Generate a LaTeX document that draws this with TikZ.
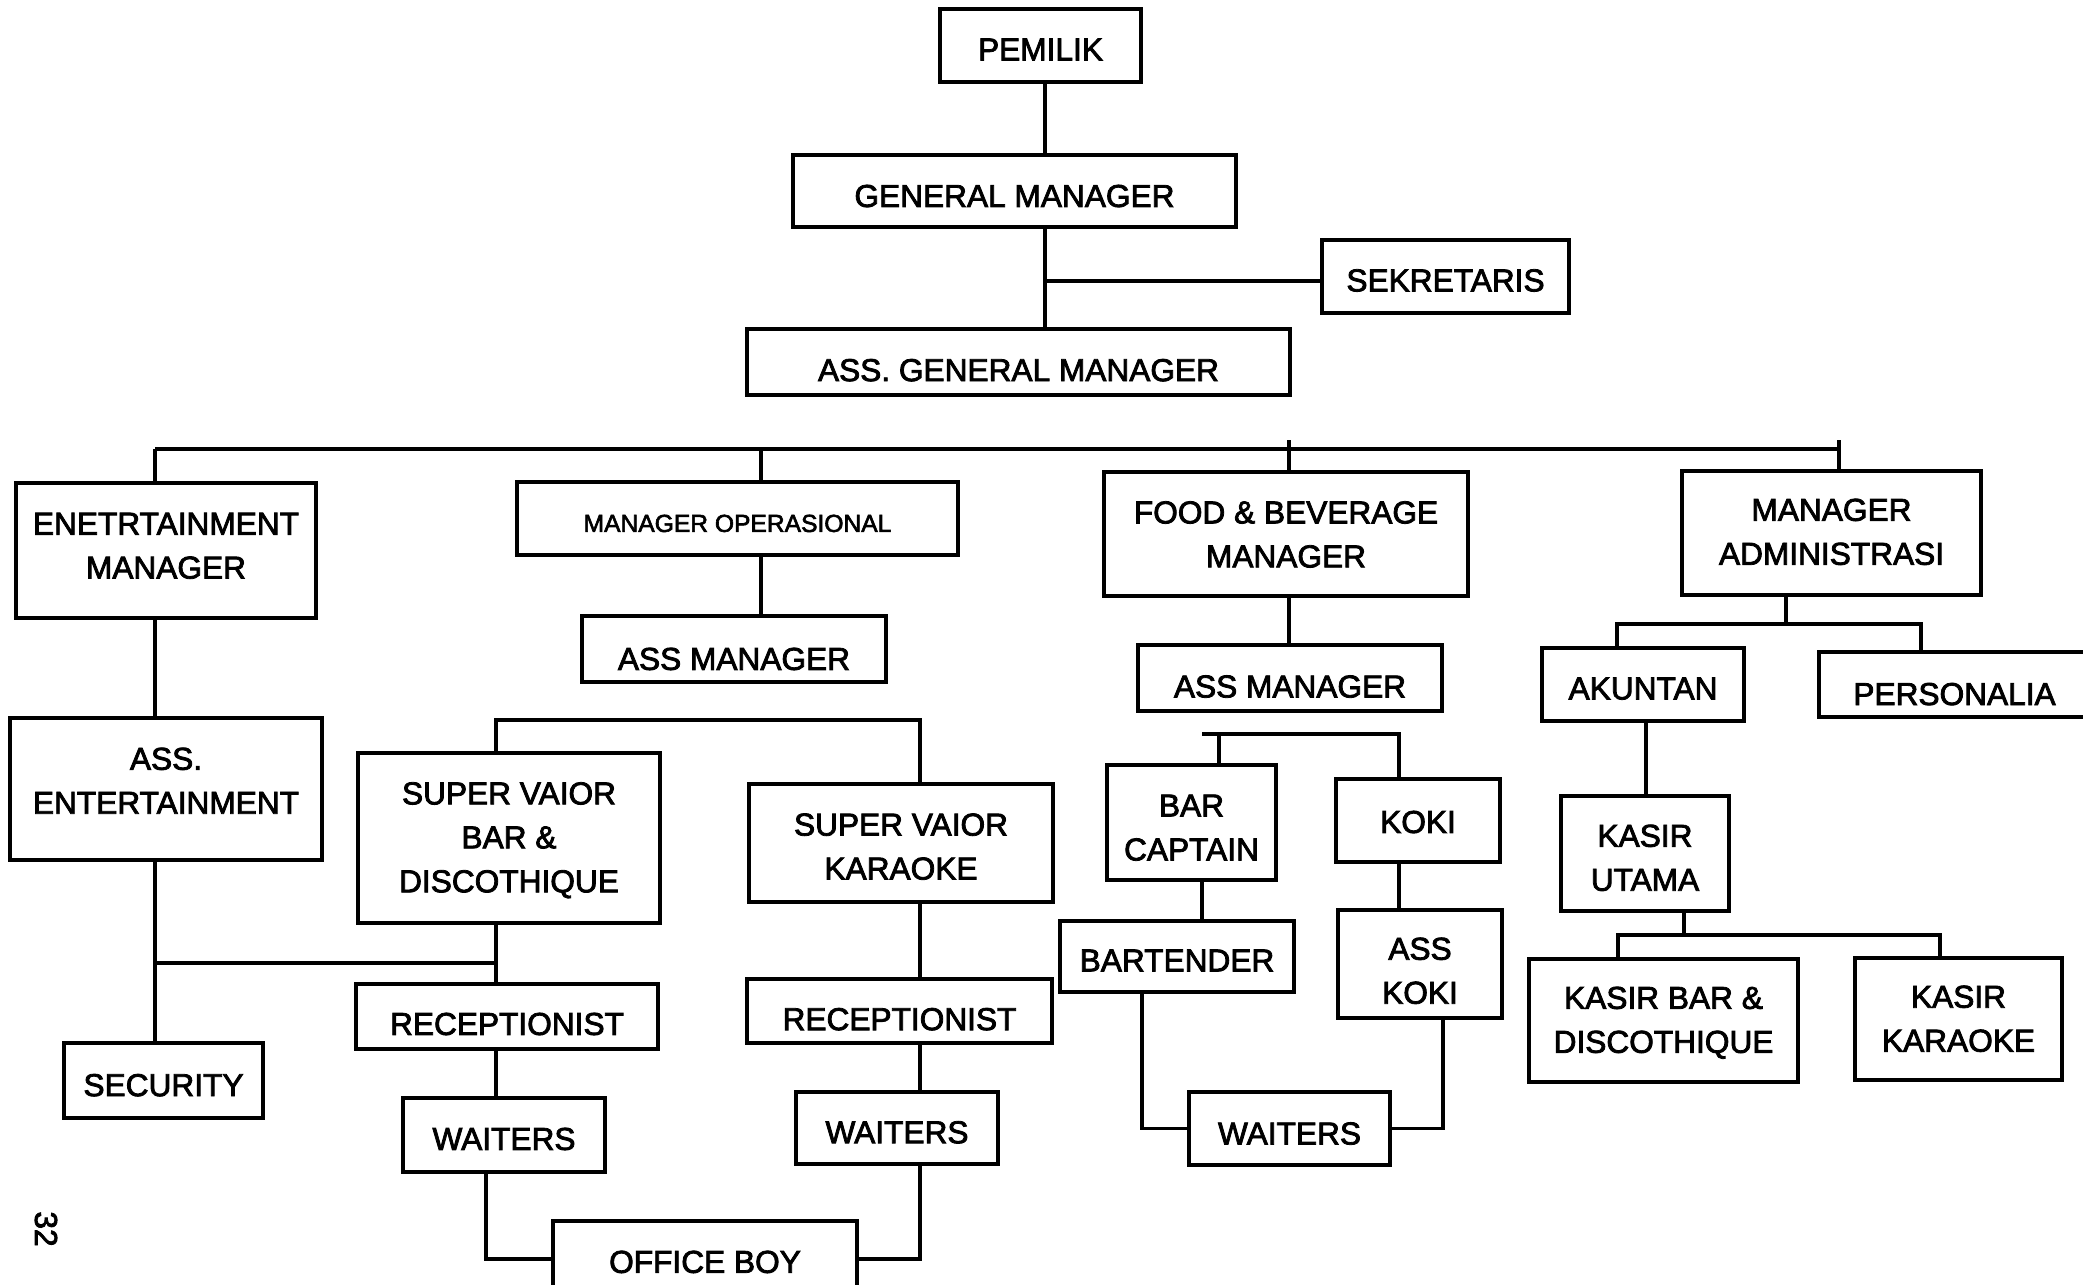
\documentclass[tikz,border=0pt]{standalone}
\usepackage{fontspec}
\setmainfont{Liberation Sans}[FakeBold=2.5]
% single-line text, lowered by #1 (box keeps cap height)
\newcommand\tone[2]{\raisebox{-#1}[6.45pt][0pt]{#2}}
\newcommand\tsmall[2]{\raisebox{-#1}[5.02pt][0pt]{#2}}
% multi-line text: #1 shift down, #2 depth of block, #3 lines
\newcommand\tmulti[3]{\raisebox{-#1}[6.45pt][#2]{\begin{tabular}[t]{@{}c@{}}#3\end{tabular}}}
\begin{document}
\begin{tikzpicture}[x=0.01cm,y=0.01cm,
  box/.style={draw, line width=1.05pt, inner sep=0pt, fill=white,
              font=\fontsize{9}{12.5}\selectfont},
  conn/.style={line width=1pt}]
\useasboundingbox (0,0) rectangle (2083,-1284);
\clip (0,0) rectangle (2083,-1284);
\fill[white] (0,0) rectangle (2083,-1284);

% top
\node[box,minimum width=2.01cm,minimum height=0.73cm] (pemilik) at (1040.5,-45.5) {\tone{1pt}{PEMILIK}};
\node[box,minimum width=4.43cm,minimum height=0.72cm] (gm) at (1014.5,-191) {\tone{1.3pt}{GENERAL MANAGER}};
\node[box,minimum width=2.47cm,minimum height=0.73cm] (sek) at (1445.5,-276.5) {\tone{1pt}{SEKRETARIS}};
\node[box,minimum width=5.43cm,minimum height=0.66cm] (agm) at (1018.5,-362) {\tone{2.2pt}{ASS. GENERAL MANAGER}};

% managers
\node[box,minimum width=3.00cm,minimum height=1.35cm] (ent) at (166,-550.5) {\tmulti{-1.5pt}{12.5pt}{ENETRTAINMENT\\MANAGER}};
\node[box,minimum width=4.41cm,minimum height=0.73cm,font=\fontsize{7}{9}\selectfont] (mop) at (737.5,-518.5) {\tsmall{1.3pt}{MANAGER OPERASIONAL}};
\node[box,minimum width=3.04cm,minimum height=0.66cm] (assop) at (734,-649) {\tone{2.7pt}{ASS MANAGER}};
\node[box,minimum width=3.64cm,minimum height=1.24cm] (fb) at (1286,-534) {\tmulti{0pt}{12.5pt}{FOOD \& BEVERAGE\\MANAGER}};
\node[box,minimum width=2.99cm,minimum height=1.24cm] (madm) at (1831.5,-533) {\tmulti{-0.45pt}{12.5pt}{MANAGER\\ADMINISTRASI}};
\node[box,minimum width=3.04cm,minimum height=0.66cm] (assfb) at (1290,-678) {\tone{2.3pt}{ASS MANAGER}};
\node[box,minimum width=2.02cm,minimum height=0.73cm] (akun) at (1643,-684.5) {\tone{1pt}{AKUNTAN}};
\node[box,minimum width=2.71cm,minimum height=0.65cm] (pers) at (1954.5,-684.5) {\tone{2.6pt}{PERSONALIA}};

% F&B branch
\node[box,minimum width=1.69cm,minimum height=1.15cm] (barcap) at (1191.5,-822.5) {\tmulti{1.3pt}{12.5pt}{BAR\\CAPTAIN}};
\node[box,minimum width=1.64cm,minimum height=0.83cm] (koki) at (1418,-820.5) {\tone{0.3pt}{KOKI}};
\node[box,minimum width=2.34cm,minimum height=0.71cm] (bartender) at (1177,-956.5) {\tone{1pt}{BARTENDER}};
\node[box,minimum width=1.64cm,minimum height=1.08cm] (asskoki) at (1420,-964) {\tmulti{1.8pt}{12.5pt}{ASS\\KOKI}};
\node[box,minimum width=2.01cm,minimum height=0.73cm] (waitfb) at (1289.5,-1128.5) {\tone{1.3pt}{WAITERS}};

% admin branch
\node[box,minimum width=1.68cm,minimum height=1.15cm] (kasirut) at (1645,-853.5) {\tmulti{1.1pt}{12.5pt}{KASIR\\UTAMA}};
\node[box,minimum width=2.69cm,minimum height=1.23cm] (kbar) at (1663.5,-1020.5) {\tmulti{-0.3pt}{12.5pt}{KASIR BAR \&\\DISCOTHIQUE}};
\node[box,minimum width=2.07cm,minimum height=1.22cm] (kkar) at (1958.5,-1019) {\tmulti{-0.2pt}{12.5pt}{KASIR\\KARAOKE}};

% entertainment / operational branch
\node[box,minimum width=3.12cm,minimum height=1.42cm] (assent) at (166,-789) {\tmulti{-2.45pt}{12.5pt}{ASS.\\ENTERTAINMENT}};
\node[box,minimum width=1.99cm,minimum height=0.75cm] (security) at (163.5,-1080.5) {\tone{1.2pt}{SECURITY}};
\node[box,minimum width=3.02cm,minimum height=1.70cm] (svbar) at (509,-838) {\tmulti{-0.3pt}{25pt}{SUPER VAIOR\\BAR \&\\DISCOTHIQUE}};
\node[box,minimum width=3.04cm,minimum height=1.18cm] (svkar) at (901,-843) {\tmulti{0.9pt}{12.5pt}{SUPER VAIOR\\KARAOKE}};
\node[box,minimum width=3.02cm,minimum height=0.65cm] (recl) at (507,-1016.5) {\tone{2pt}{RECEPTIONIST}};
\node[box,minimum width=3.05cm,minimum height=0.64cm] (recr) at (899.5,-1011) {\tone{2.2pt}{RECEPTIONIST}};
\node[box,minimum width=2.02cm,minimum height=0.74cm] (waitl) at (504,-1135) {\tone{1pt}{WAITERS}};
\node[box,minimum width=2.02cm,minimum height=0.72cm] (waitr) at (897,-1128) {\tone{1.1pt}{WAITERS}};
\node[box,minimum width=3.04cm,minimum height=0.76cm] (office) at (705,-1259) {\tone{0.7pt}{OFFICE BOY}};

% page number
\node[rotate=-90,font=\fontsize{9}{11}\selectfont,inner sep=0pt] (pagenum) at (46,-1229) {32};

% connectors: top
\coordinate (sp) at (1045,-281);
\draw[conn] (pemilik.south -| sp) -- (gm.north -| sp);
\draw[conn] (gm.south -| sp) -- (agm.north -| sp);
\draw[conn] (sp) -- (sp -| sek.west);

% main bus
\coordinate (bL) at (155,-449);
\coordinate (bR) at (1839,-449);
\coordinate (bO) at (761,-449);
\coordinate (bF) at (1289,-440);
\coordinate (bA) at (1839,-440);
\draw[conn] (bL) -- (bR);
\draw[conn] (bL) -- (bL |- ent.north);
\draw[conn] (bO) -- (bO |- mop.north);
\draw[conn] (bF) -- (bF |- fb.north);
\draw[conn] (bA) -- (bA |- madm.north);

% operational
\draw[conn] (mop.south -| bO) -- (assop.north -| bO);
\coordinate (svL) at (496,-720);
\coordinate (svR) at (920,-720);
\draw[conn] (svbar.north -| svL) |- (svR) -- (svkar.north -| svR);

% entertainment
\draw[conn] (ent.south -| bL) -- (assent.north -| bL);
\draw[conn] (assent.south -| bL) -- (security.north -| bL);
\coordinate (jn) at (496,-963);
\draw[conn] (jn -| bL) -- (jn);
\draw[conn] (svbar.south -| svL) -- (recl.north -| svL);
\draw[conn] (recl.south -| svL) -- (waitl.north -| svL);
\coordinate (ob1) at (486,-1256);
\draw[conn] (waitl.south -| ob1) |- (office.west);
\draw[conn] (svkar.south -| svR) -- (recr.north -| svR);
\draw[conn] (recr.south -| svR) -- (waitr.north -| svR);
\draw[conn] (waitr.south -| svR) |- (office.east);

% F&B
\draw[conn] (fb.south -| bF) -- (assfb.north -| bF);
\coordinate (bbL) at (1202,-734);
\coordinate (bbR) at (1399,-734);
\coordinate (bc) at (1219,-734);
\draw[conn] (bbL) -- (bbR) -- (koki.north -| bbR);
\draw[conn] (bc) -- (bc |- barcap.north);
\draw[conn] (barcap.south -| bbL) -- (bartender.north -| bbL);
\draw[conn] (koki.south -| bbR) -- (asskoki.north -| bbR);
\coordinate (wl) at (1142,-1133);
\coordinate (wr) at (1443,-1133);
\draw[conn] (bartender.south -| wl) |- (waitfb.west);
\draw[conn] (asskoki.south -| wr) |- (waitfb.east);

% admin
\coordinate (ad) at (1786,-624);
\coordinate (adL) at (1617,-624);
\coordinate (adR) at (1921,-624);
\draw[conn] (madm.south -| ad) -- (ad);
\draw[conn] (akun.north -| adL) |- (adR) -- (pers.north -| adR);
\coordinate (ak) at (1646,-700);
\draw[conn] (akun.south -| ak) -- (kasirut.north -| ak);
\coordinate (ku) at (1684,-935);
\coordinate (kuL) at (1618,-935);
\coordinate (kuR) at (1940,-935);
\draw[conn] (kasirut.south -| ku) -- (ku);
\draw[conn] (kbar.north -| kuL) |- (kuR) -- (kkar.north -| kuR);
\end{tikzpicture}
\end{document}
